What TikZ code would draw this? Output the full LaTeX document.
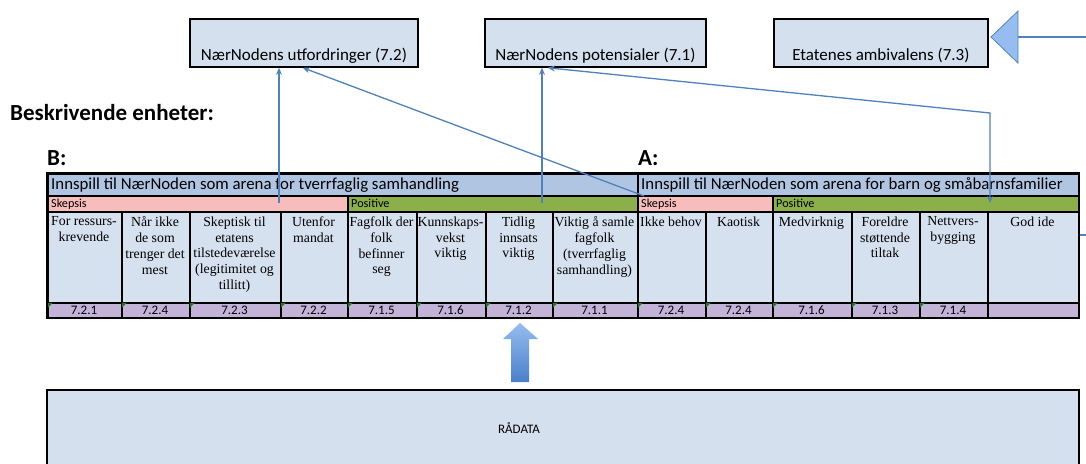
\documentclass[tikz,border=0pt]{standalone}
\usepackage{fontspec}
\setmainfont{Liberation Serif}
\newfontfamily\calfont{Carlito}
\usetikzlibrary{arrows.meta,calc}
\definecolor{boxblue}{HTML}{D5E0EE}
\definecolor{cellblue}{HTML}{D6E1EF}
\definecolor{headblue}{HTML}{B0C5E2}
\definecolor{skpink}{HTML}{F7BCBC}
\definecolor{posgreen}{HTML}{8BAF4A}
\definecolor{numpurple}{HTML}{C2B3D7}
\definecolor{linkblue}{HTML}{4F81BD}
\definecolor{tipgreen}{HTML}{1F7A1F}
\definecolor{arrowtop}{HTML}{95BDF0}
\definecolor{arrowbot}{HTML}{4A7FC9}
\begin{document}
\begin{tikzpicture}[x=1pt,y=-1pt,
  topbox/.style={draw=black,line width=1.8pt,fill=boxblue,inner sep=0pt,anchor=north west,minimum height=48},
  toptext/.style={font=\calfont\fontsize{17}{20}\selectfont,anchor=base,inner sep=0pt},
  cellbox/.style={draw=black,line width=1.5pt,inner sep=0pt,anchor=north west},
  celltext/.style={font=\fontsize{13.8}{15.8}\selectfont,align=center,anchor=north,inner sep=0pt},
  numtext/.style={font=\calfont\fontsize{13}{15}\selectfont,anchor=base,inner sep=0pt},
  hdrtext/.style={font=\calfont\fontsize{16.8}{19}\selectfont,anchor=base west,inner sep=0pt},
  subtext/.style={font=\calfont\fontsize{12.2}{14}\selectfont,anchor=base west,inner sep=0pt},
  bigtext/.style={font=\calfont\bfseries\fontsize{23}{26}\selectfont,anchor=base west,inner sep=0pt},
  conn/.style={draw=linkblue,line width=1.3pt},
  tip/.style={-{Stealth[length=7pt,width=6pt]}},
  bothtips/.style={{Stealth[length=7pt,width=6pt]}-{Stealth[length=7pt,width=6pt]}},
]
\useasboundingbox (0,0) rectangle (1086,463);

% top boxes
\node[topbox,minimum width=228] (b1) at (189,18) {};
\node[toptext] (b1t) at ($(b1.south)+(0,-7)$) {NærNodens utfordringer (7.2)};
\node[topbox,minimum width=221] (b2) at (484,18) {};
\node[toptext] (b2t) at ($(b2.south)+(0,-7)$) {NærNodens potensialer (7.1)};
\node[topbox,minimum width=214] (b3) at (773,18) {};
\node[toptext] (b3t) at ($(b3.south)+(0,-7)$) {Etatenes ambivalens (7.3)};

% right block arrow (cut off)
\filldraw[fill=arrowtop,draw=linkblue,line width=0.8pt] (991,37) -- (1018,11) -- (1018,63) -- cycle;
\draw[conn] (1018,37) -- (1086,37);

% headings
\node[bigtext] (besk) at (10,120) {Beskrivende enheter:};
\node[bigtext] (lblB) at (47,165) {B:};
\node[bigtext] (lblA) at (638,165) {A:};

% header rows
\node[cellbox,fill=headblue,minimum width=590,minimum height=22] (hdrB) at (47,173) {};
\node[hdrtext] (hdrBt) at (51,189) {Innspill til NærNoden som arena for tverrfaglig samhandling};
\node[cellbox,fill=headblue,minimum width=441,minimum height=22] (hdrA) at (637,173) {};
\node[hdrtext] (hdrAt) at (641,189) {Innspill til NærNoden som arena for barn og småbarnsfamilier};

\node[cellbox,fill=skpink,minimum width=300,minimum height=16] (skB) at (47,195) {};
\node[subtext] (skBt) at (51,207.5) {Skepsis};
\node[cellbox,fill=posgreen,minimum width=290,minimum height=16] (posB) at (347,195) {};
\node[subtext] (posBt) at (351,207.5) {Positive};
\node[cellbox,fill=skpink,minimum width=135,minimum height=16] (skA) at (637,195) {};
\node[subtext] (skAt) at (641,207.5) {Skepsis};
\node[cellbox,fill=posgreen,minimum width=306,minimum height=16] (posA) at (772,195) {};
\node[subtext] (posAt) at (776,207.5) {Positive};

% cells
\foreach \i/\xa/\xb/\txt/\num in {
 1/47/121/{For ressurs-\\krevende}/7.2.1,
 2/121/189/{Når ikke\\de som\\trenger det\\mest}/7.2.4,
 3/189/280/{Skeptisk til\\etatens\\tilstedeværelse\\(legitimitet og\\tillitt)}/7.2.3,
 4/280/347/{Utenfor\\mandat}/7.2.2,
 5/347/416/{Fagfolk der\\folk\\befinner\\seg}/7.1.5,
 6/416/485/{Kunnskaps-\\vekst\\viktig}/7.1.6,
 7/485/552/{Tidlig\\innsats\\viktig}/7.1.2,
 8/552/637/{Viktig å samle\\fagfolk\\(tverrfaglig\\samhandling)}/7.1.1,
 9/637/705/{Ikke behov}/7.2.4,
 10/705/772/{Kaotisk}/7.2.4,
 11/772/851/{Medvirknig}/7.1.6,
 12/851/919/{Foreldre\\støttende\\tiltak}/7.1.3,
 13/919/987/{Nettvers-\\bygging}/7.1.4,
 14/987/1078/{God ide}/{}}
{
 \node[cellbox,fill=cellblue,minimum width={\xb-\xa},minimum height=91] (c\i) at (\xa,211) {};
 \node[celltext] (t\i) at ({(\xa+\xb)/2},216.6) {\txt};
 \node[cellbox,fill=numpurple,minimum width={\xb-\xa},minimum height=15] (n\i) at (\xa,302) {};
 \node[numtext] (m\i) at ({(\xa+\xb)/2},314) {\num};
 \ifnum\i<14
   \fill[tipgreen] ($(n\i.north west)+(0.8,0.8)$) -- ++(5,0) -- ++(-5,5) -- cycle;
 \fi
}
\draw[black,line width=1.8pt] (hdrB.north west) rectangle (n14.south east);

% connectors
\coordinate (p1) at (279,203);
\draw[conn,tip] (p1) -- (p1 |- b1.south);
\coordinate (p2) at (644,196);
\draw[conn,tip] (p2) -- ($(b1.south)+(-1,0)$);
\coordinate (p3) at (542,203);
\draw[conn,tip] (p3) -- (p3 |- b2.south);
\coordinate (p4) at (990,203);
\coordinate (e4) at (990,113);
\draw[conn,bothtips] (p4) -- (e4) -- ($(b2.south)+(-47.5,0)$);
\coordinate (p5) at (1080,235);
\draw[conn] (p5) -- (1086,235);

% raw data box and block arrow
\node[draw=black,line width=2pt,fill=boxblue,anchor=north west,minimum width=1032,minimum height=80,inner sep=0pt] (raw) at (46,389) {};
\node[font=\calfont\fontsize{13}{15}\selectfont,inner sep=0pt] (rawt) at (519,428) {RÅDATA};
\shade[top color=arrowtop,bottom color=arrowbot] (511,382) -- (511,339) -- (503,339) -- (520,323) -- (538,339) -- (529,339) -- (529,382) -- cycle;
\end{tikzpicture}
\end{document}
